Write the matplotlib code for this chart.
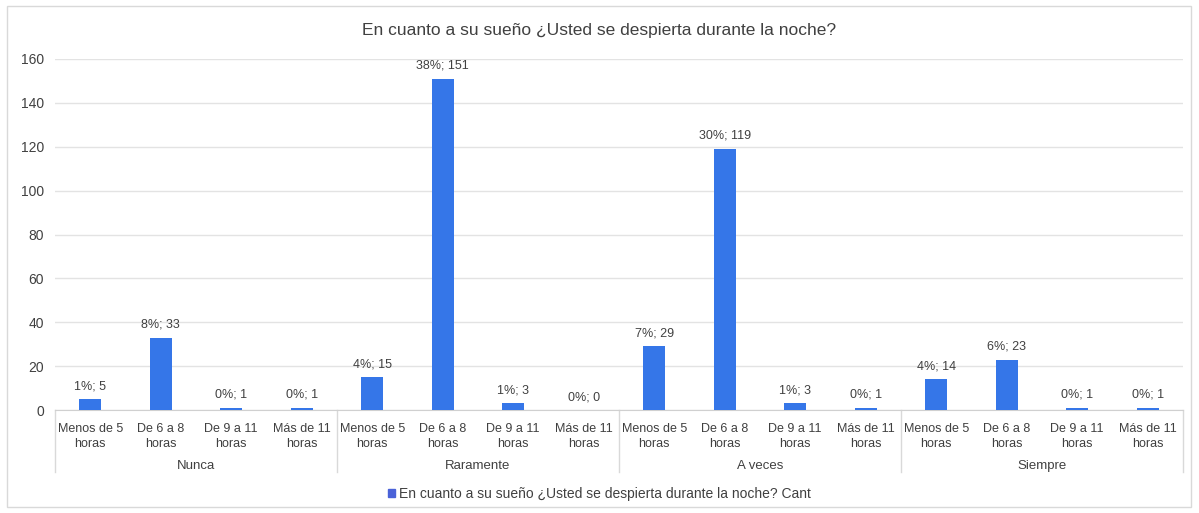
import matplotlib
matplotlib.use("Agg")
import matplotlib.pyplot as plt
from matplotlib.patches import Rectangle
from matplotlib.lines import Line2D
import numpy as np

plt.rcParams['font.family'] = ['Liberation Sans', 'DejaVu Sans']

groups = ["Nunca", "Raramente", "A veces", "Siempre"]
subcats = ["Menos de 5\nhoras", "De 6 a 8\nhoras", "De 9 a 11\nhoras", "Más de 11\nhoras"]
values = [5, 33, 1, 1,
          15, 151, 3, 0,
          29, 119, 3, 1,
          14, 23, 1, 1]
percents = ["1%", "8%", "0%", "0%",
            "4%", "38%", "1%", "0%",
            "7%", "30%", "1%", "0%",
            "4%", "6%", "0%", "0%"]
title = "En cuanto a su sueño ¿Usted se despierta durante la noche?"
legend_label = "En cuanto a su sueño ¿Usted se despierta durante la noche? Cant"
yticks = [0, 20, 40, 60, 80, 100, 120, 140, 160]

bar_color = "#3576E8"
txt = "#404040"
W, H = 1199, 513
fig = plt.figure(figsize=(W / 100, H / 100), dpi=100)
fig.patch.set_facecolor("white")

# outer border
fig.add_artist(Rectangle((7 / W, 1 - 507 / H), (1191 - 7) / W, (507 - 6) / H,
                         transform=fig.transFigure, fill=False,
                         edgecolor="#d9d9d9", linewidth=1.0))

ax = fig.add_axes([55 / W, 1 - 410 / H, (1183 - 55) / W, (410 - 59) / H])
n = len(values)
x = np.arange(n)
ax.bar(x, values, width=0.31, color=bar_color, zorder=3)
ax.set_xlim(-0.5, n - 0.5)
ax.set_ylim(0, 160)
ax.set_yticks(yticks)
ax.set_yticklabels([str(t) for t in yticks], fontsize=10, color=txt)
ax.tick_params(axis="y", length=0, pad=8)
ax.grid(axis="y", color="#e3e3e3", linewidth=1.0, zorder=0)
for s in ["top", "right", "left"]:
    ax.spines[s].set_visible(False)
ax.spines["bottom"].set_color("#d0d0d0")
ax.set_xticks(x)
ax.set_xticklabels(subcats * len(groups), fontsize=9, color=txt, linespacing=1.38)
ax.tick_params(axis="x", length=0, pad=9)

for xi, v, p in zip(x, values, percents):
    ax.annotate(f"{p}; {v}", (xi, v), xytext=(0, 5), textcoords="offset points",
                ha="center", va="bottom", fontsize=9, color=txt)

# group separators and labels
trans = ax.get_xaxis_transform()
for gi in range(len(groups) + 1):
    xs = gi * 4 - 0.5
    ax.add_line(Line2D([xs, xs], [0, -62 / (410 - 59)], transform=trans,
                       color="#d9d9d9", linewidth=1.0, clip_on=False))
for gi, g in enumerate(groups):
    ax.text(gi * 4 + 1.5, -56 / (410 - 59), g, transform=trans, ha="center",
            va="center", fontsize=9.5, color=txt)

fig.text(0.5, 1 - 30 / H, title, ha="center", va="center", fontsize=12.5, color=txt)

handle = Rectangle((0, 0), 1, 1, color="#4a62d8")
fig.legend([handle], [legend_label], loc="center", bbox_to_anchor=(0.5, 1 - 494 / H),
           frameon=False, fontsize=10, handlelength=0.5, handleheight=0.5,
           handletextpad=0.3, labelcolor=txt)

fig.savefig("out.png", dpi=100, facecolor="white")
